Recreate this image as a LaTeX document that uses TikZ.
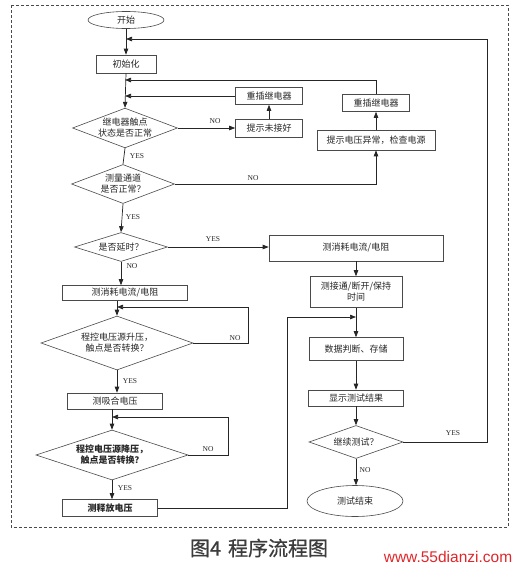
\documentclass[tikz,border=0pt]{standalone}
\usepackage{fontspec}
\setmainfont{Noto Sans CJK SC}
\newfontfamily\lat{Liberation Serif}
\newfontfamily\web{Liberation Sans}
\newfontfamily\capfont[FakeBold=0.7]{Noto Sans CJK SC}
\usetikzlibrary{shapes.geometric,arrows.meta}
\definecolor{ink}{HTML}{262626}
\definecolor{edge}{HTML}{4A4A4A}
\definecolor{webred}{HTML}{E0262A}
\begin{document}
\begin{tikzpicture}[x=1pt,y=-1pt,
  every node/.style={text=ink,font=\fontsize{9}{11}\selectfont},
  boxst/.style={draw=edge,line width=0.6pt,rectangle,inner sep=0pt,align=center},
  ovalst/.style={draw=edge,line width=0.6pt,ellipse,inner sep=0pt,align=center},
  decst/.style={draw=edge,line width=0.6pt,diamond,inner sep=0pt,align=center},
  arr/.style={draw=ink,line width=0.7pt,-{Triangle[length=6pt,width=4.5pt]}},
  ln/.style={draw=ink,line width=0.7pt},
  lab/.style={font=\lat\fontsize{7.5}{9}\selectfont,inner sep=0pt}]
\useasboundingbox (0,0) rectangle (518,568);
\draw[edge,line width=0.6pt,dash pattern=on 3pt off 2pt] (11,5) rectangle (508,527);

% left column
\node[ovalst,minimum width=76,minimum height=17] (start) at (126,20) {开始};
\node[boxst,minimum width=60,minimum height=18] (init) at (126,64) {初始化};
\node[decst,minimum width=103,minimum height=39,shape aspect=2.64] (d1) at (125,128) {继电器触点\\状态是否正常};
\node[decst,minimum width=103,minimum height=39,shape aspect=2.64] (d2) at (123,184) {测量通道\\是否正常？};
\node[decst,minimum width=93,minimum height=29,shape aspect=3.2] (d3) at (121,247) {是否延时？};
\node[boxst,minimum width=125,minimum height=15] (lb1) at (125,293) {测消耗电流/电阻};
\node[decst,minimum width=152,minimum height=54,shape aspect=2.8] (d4) at (117,343) {程控电压源升压，\\触点是否转换？};
\node[boxst,minimum width=95,minimum height=16] (bx) at (115,401) {测吸合电压};
\node[decst,minimum width=152,minimum height=50,shape aspect=3.04,font=\bfseries\fontsize{9}{11}\selectfont] (d5) at (112,455) {程控电压源降压，\\触点是否转换？};
\node[boxst,minimum width=95,minimum height=17,font=\bfseries\fontsize{9}{11}\selectfont] (rel) at (110,508) {测释放电压};

% error handling
\node[boxst,minimum width=67,minimum height=17] (re1) at (269,96) {重插继电器};
\node[boxst,minimum width=67,minimum height=18] (tip1) at (269,128) {提示未接好};
\node[boxst,minimum width=67,minimum height=17] (re2) at (376,103) {重插继电器};
\node[boxst,minimum width=118,minimum height=20] (tip2) at (376,140) {提示电压异常，检查电源};

% right column
\node[boxst,minimum width=174,minimum height=26] (rb1) at (356,248) {测消耗电流/电阻};
\node[boxst,minimum width=92,minimum height=31] (rb2) at (356,292) {测接通/断开/保持\\时间};
\node[boxst,minimum width=94,minimum height=23] (data) at (356,349) {数据判断、存储};
\node[boxst,minimum width=95,minimum height=16] (disp) at (356,398) {显示测试结果};
\node[decst,minimum width=94,minimum height=33,shape aspect=2.85] (d6) at (356,442) {继续测试？};
\node[ovalst,minimum width=96,minimum height=31] (fin) at (355,501) {测试结束};

% corner coordinates
\coordinate (k24) at (487,39);
\coordinate (k9) at (376,80);
\coordinate (k14) at (248,307);
\coordinate (k17) at (228,417);
\coordinate (k19) at (287,317);

% main flow
\draw[arr] (start.south) -- (init.north);
\draw[arr] (init.south) -- (d1.north);
\draw[arr] (d1.east) -- (tip1.west);
\draw[arr] (tip1.north) -- (re1.south);
\draw[arr] (re1.west) -- (re1.west -| d1.north);
\draw[ln] (d1.south) -- (d2.north);
\draw[arr] (d2.east) -| (tip2.south);
\draw[arr] (tip2.north) -- (re2.south);
\draw[arr] (re2.north) -- (k9) -- (k9 -| d1.north);
\draw[arr] (d2.south) -- (d3.north);
\draw[arr] (d3.east) -- (d3.east -| rb1.west);
\draw[arr] (d3.south) -- (d3.south |- lb1.north);
\draw[arr] (d4.north |- lb1.south) -- (d4.north);
\draw[arr] (d4.east) -| (k14) -- (k14 -| d4.north);
\draw[arr] (d4.south) -- (d4.south |- bx.north);
\draw[arr] (d5.north |- bx.south) -- (d5.north);
\draw[arr] (d5.east) -| (k17) -- (k17 -| d5.north);
\draw[arr] (d5.south) -- (d5.south |- rel.north);
\draw[arr] (rel.east) -| (k19) -- (k19 -| data.north);
\draw[arr] (rb1.south) -- (rb2.north);
\draw[arr] (rb2.south) -- (data.north);
\draw[arr] (data.south) -- (disp.north);
\draw[arr] (disp.south) -- (d6.north);
\draw[arr] (d6.east) -| (k24) -- (k24 -| start.south);
\draw[arr] (d6.south) -- (d6.south |- fin.north);

% branch labels
\node[lab] (l1) at (215,121) {NO};
\node[lab] (l2) at (137,156) {YES};
\node[lab] (l3) at (253,178) {NO};
\node[lab] (l4) at (133,217) {YES};
\node[lab] (l5) at (213,239) {YES};
\node[lab] (l6) at (132,266) {NO};
\node[lab] (l7) at (235,338) {NO};
\node[lab] (l8) at (130,381) {YES};
\node[lab] (l9) at (208,449) {NO};
\node[lab] (l10) at (125,488) {YES};
\node[lab] (l11) at (453,433) {YES};
\node[lab] (l12) at (365,470) {NO};

% caption
\node[font=\capfont\fontsize{20}{24}\selectfont,text=ink!90] (cap) at (259,548) {图4\hspace{7pt}程序流程图};
\node[font=\web\fontsize{15.5}{18}\selectfont,text=webred] (wm) at (448,557) {www.55dianzi.com};
\end{tikzpicture}
\end{document}
